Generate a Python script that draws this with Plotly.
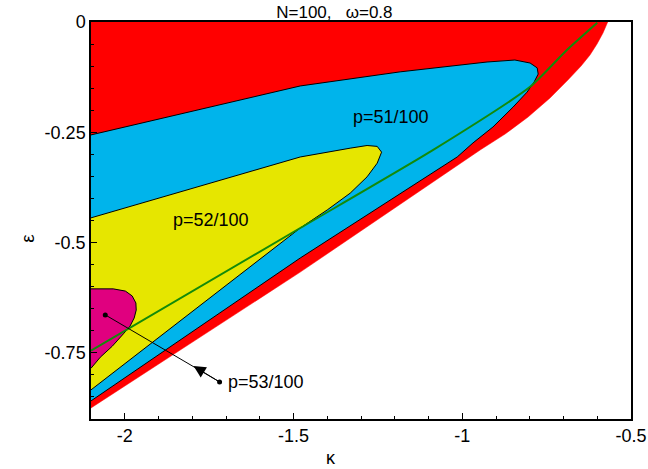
import plotly.graph_objects as go

# ---- data (kappa, epsilon) ----
red_x = [-2.1, -0.569, -0.583, -0.6007, -0.6215, -0.648, -0.687, -0.740, -0.805, -0.873, -0.947, -1.480, -2.1]
red_y = [0.0, 0.0, -0.0249, -0.0499, -0.0748, -0.0998, -0.1315, -0.1723, -0.2154, -0.254, -0.2902, -0.567, -0.875]

blue_x = [-2.1, -1.480, -1.184, -0.9265, -0.844, -0.799, -0.778, -0.775, -0.787, -0.808, -0.8495, -0.909, -0.968, -1.015, -1.480, -2.1]
blue_y = [-0.256, -0.145, -0.113, -0.0907, -0.0862, -0.093, -0.104, -0.118, -0.136, -0.159, -0.193, -0.238, -0.274, -0.306, -0.535, -0.859]

yellow_x = [-2.1, -1.480, -1.332, -1.282, -1.252, -1.239, -1.252, -1.282, -1.332, -1.400, -1.480, -2.1]
yellow_y = [-0.444, -0.306, -0.286, -0.280, -0.282, -0.295, -0.320, -0.351, -0.388, -0.426, -0.467, -0.834]

magenta_x = [-2.1, -2.034, -1.998, -1.978, -1.967, -1.966, -1.972, -1.984, -2.004, -2.037, -2.0725, -2.1]
magenta_y = [-0.605, -0.605, -0.610, -0.621, -0.637, -0.653, -0.671, -0.689, -0.707, -0.735, -0.760, -0.785]

green_x = [-2.1, -1.480, -1.086, -0.799, -0.690, -0.600]
green_y = [-0.745, -0.467, -0.290, -0.147, -0.0635, -0.0016]

labels = ["p=51/100", "p=52/100", "p=53/100"]
label_x = [-1.211, -1.744, -1.699]
label_y = [-0.2154, -0.449, -0.816]

pointer_x = [-1.719, -2.0577]   # from label dot to magenta dot
pointer_y = [-0.816, -0.664]
arrow_tip = (-1.796, -0.780)

x_ticks = [-2, -1.5, -1, -0.5]
x_ticktext = ["-2", "-1.5", "-1", "-0.5"]
y_ticks = [0, -0.25, -0.5, -0.75]
y_ticktext = ["0", "-0.25", "-0.5", "-0.75"]

FONT = "Liberation Sans, Arial, Helvetica, sans-serif"

fig = go.Figure()

def region(x, y, color, outline):
    fig.add_trace(go.Scatter(
        x=x, y=y, mode="lines", fill="toself", fillcolor=color,
        line=dict(color=outline, width=1 if outline != color else 0.5),
        hoverinfo="skip", showlegend=False))

region(red_x, red_y, "#FF0000", "#FF0000")
region(blue_x, blue_y, "#00B4EB", "#000000")
region(yellow_x, yellow_y, "#E6E600", "#000000")
region(magenta_x, magenta_y, "#E0007F", "#000000")

fig.add_trace(go.Scatter(x=green_x, y=green_y, mode="lines",
                         line=dict(color="#138A0A", width=2, shape="spline", smoothing=0.6),
                         hoverinfo="skip", showlegend=False))

fig.add_trace(go.Scatter(x=pointer_x, y=pointer_y, mode="lines+markers",
                         line=dict(color="black", width=1),
                         marker=dict(color="black", size=5),
                         hoverinfo="skip", showlegend=False))

fig.add_annotation(x=arrow_tip[0], y=arrow_tip[1], ax=pointer_x[0], ay=pointer_y[0],
                   xref="x", yref="y", axref="x", ayref="y", text="",
                   showarrow=True, arrowhead=2, arrowsize=2.4, arrowwidth=1, arrowcolor="black")

for t, x, y, i in zip(labels, label_x, label_y, range(3)):
    fig.add_annotation(x=x, y=y, text=t, showarrow=False,
                       xanchor="left" if i == 2 else "center",
                       font=dict(family=FONT, size=18, color="black"))

# axis titles
fig.add_annotation(x=0.444, y=-0.098, xref="paper", yref="paper", text="κ", showarrow=False,
                   xanchor="center", yanchor="middle", font=dict(family=FONT, size=18))
fig.add_annotation(x=-0.117, y=0.456, xref="paper", yref="paper", text="ε", showarrow=False,
                   textangle=-90, xanchor="center", yanchor="middle", font=dict(family=FONT, size=19))

fig.update_layout(
    width=648, height=469,
    margin=dict(l=91, r=17, t=22, b=50),
    paper_bgcolor="white", plot_bgcolor="white",
    font=dict(family=FONT, size=18, color="black"),
    title=dict(text="N=100,&nbsp;&nbsp;&nbsp;ω=0.8", x=0.516, xanchor="center",
               y=0.975, yanchor="middle", font=dict(family=FONT, size=17)),
)
fig.update_xaxes(range=[-2.1, -0.5], tickvals=x_ticks, ticktext=x_ticktext,
                 ticks="inside", ticklen=6, tickcolor="black", automargin=False,
                 minor=dict(dtick=0.1, tick0=-2, ticks="inside", ticklen=3, tickcolor="black"),
                 showline=True, linecolor="black", linewidth=1.5, mirror=True,
                 showgrid=False, zeroline=False)
fig.update_yaxes(range=[-0.9, 0], tickvals=y_ticks, ticktext=y_ticktext,
                 ticks="inside", ticklen=6, tickcolor="black", automargin=False,
                 minor=dict(dtick=0.05, tick0=0, ticks="inside", ticklen=3, tickcolor="black"),
                 showline=True, linecolor="black", linewidth=1.5, mirror=True,
                 showgrid=False, zeroline=False)

fig.write_html("out.html")
